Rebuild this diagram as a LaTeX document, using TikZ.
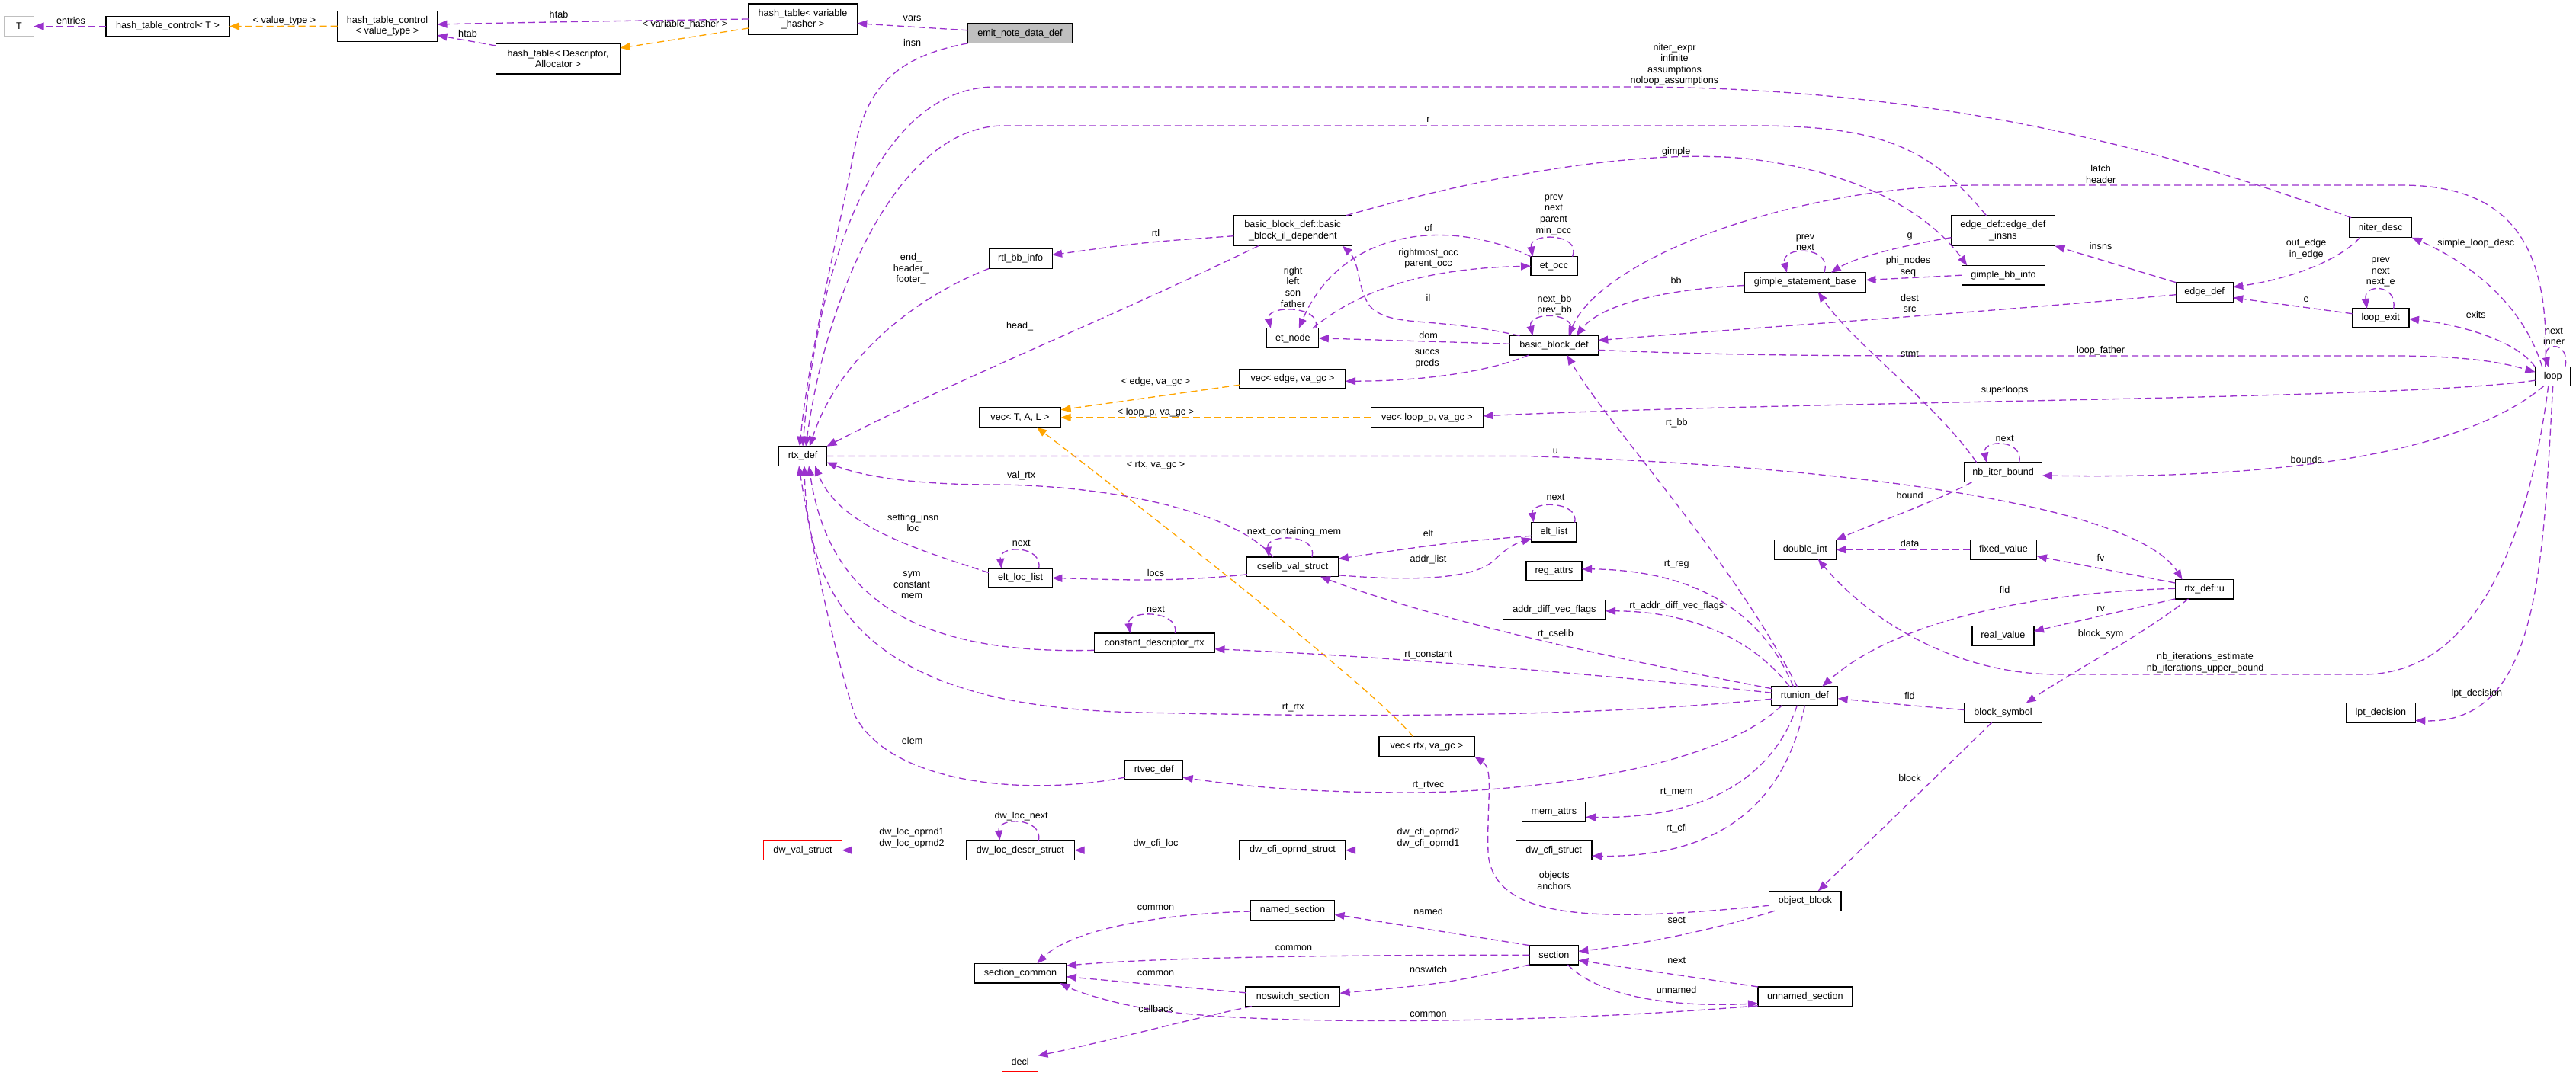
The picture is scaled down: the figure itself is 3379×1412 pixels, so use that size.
\documentclass[tikz,border=0pt]{standalone}
\usepackage{fontspec}
\setmainfont{Liberation Sans}
\usetikzlibrary{arrows.meta}
\definecolor{epurple}{RGB}{154,50,205}
\definecolor{eorange}{RGB}{255,165,0}
\definecolor{ggrey}{RGB}{191,191,191}
\newcommand\dgfont{\fontsize{12.6}{14.6}\selectfont}
\begin{document}
\begin{tikzpicture}[x=1pt,y=-1pt,
 box/.style={draw=black,line width=1.2pt,fill=white,inner sep=0pt,outer sep=0pt,align=center,font=\dgfont},
 lbl/.style={inner sep=0pt,align=center,font=\dgfont},
 edg/.style={draw=epurple,line width=1.3pt,dash pattern=on 9pt off 5pt,-{Triangle[length=13pt,width=10pt]}},
 orng/.style={edg,draw=eorange}]
\fill[white] (0,0) rectangle (3379,1412);
\useasboundingbox (0,0) rectangle (3379,1412);
% nodes
\node[box,draw=ggrey,minimum width=39pt,minimum height=26pt] (T) at (25,34.5) {T};
\node[box,minimum width=162pt,minimum height=26pt] (htcT) at (220,34.5) {hash\_table\_control< T >};
\node[box,minimum width=131pt,minimum height=40pt] (htcV) at (508,34.3) {hash\_table\_control\\< value\_type >};
\node[box,minimum width=163pt,minimum height=40pt] (htD) at (732,77) {hash\_table< Descriptor,\\ Allocator >};
\node[box,minimum width=142.5pt,minimum height=40pt] (htV) at (1053,25) {hash\_table< variable\\\_hasher >};
\node[box,fill=ggrey,minimum width=136.6pt,minimum height=26pt] (emit) at (1338,43.8) {emit\_note\_data\_def};
\node[box,minimum width=83pt,minimum height=26pt] (rtlbb) at (1338.6,339.5) {rtl\_bb\_info};
\node[box,minimum width=155pt,minimum height=40pt] (ild) at (1695.8,302.7) {basic\_block\_def::basic\\\_block\_il\_dependent};
\node[box,minimum width=61pt,minimum height=25pt] (etocc) at (2038.5,349.2) {et\_occ};
\node[box,minimum width=68pt,minimum height=26pt] (etnode) at (1695.8,443.8) {et\_node};
\node[box,minimum width=115.5pt,minimum height=25.3pt] (bbd) at (2038.5,453.3) {basic\_block\_def};
\node[box,minimum width=159.4pt,minimum height=25.6pt] (gsb) at (2367.8,370.5) {gimple\_statement\_base};
\node[box,minimum width=136pt,minimum height=40pt] (edi) at (2627.4,302.7) {edge\_def::edge\_def\\\_insns};
\node[box,minimum width=109.5pt,minimum height=25.7pt] (gbi) at (2628,361.2) {gimple\_bb\_info};
\node[box,minimum width=75pt,minimum height=26pt] (edge) at (2891.7,383.7) {edge\_def};
\node[box,minimum width=82.7pt,minimum height=26pt] (niter) at (3122.5,298.7) {niter\_desc};
\node[box,minimum width=74.5pt,minimum height=25pt] (lexit) at (3122.7,417.5) {loop\_exit};
\node[box,minimum width=46.5pt,minimum height=25pt] (loop) at (3348.7,494.2) {loop};
\node[box,minimum width=102.5pt,minimum height=26pt] (nbib) at (2627.6,619.7) {nb\_iter\_bound};
\node[box,minimum width=87.7pt,minimum height=25.3pt] (fixed) at (2628,721.3) {fixed\_value};
\node[box,minimum width=76.7pt,minimum height=25.3pt] (rtxu) at (2891.5,773.3) {rtx\_def::u};
\node[box,minimum width=81pt,minimum height=25.6pt] (real) at (2627.4,834.5) {real\_value};
\node[box,minimum width=102.5pt,minimum height=25.6pt] (bsym) at (2627.6,935.5) {block\_symbol};
\node[box,minimum width=91pt,minimum height=25.6pt] (lpt) at (3122.8,935.5) {lpt\_decision};
\node[box,minimum width=139pt,minimum height=25.7pt] (vedge) at (1695.5,497.2) {vec< edge, va\_gc >};
\node[box,minimum width=107.3pt,minimum height=25.7pt] (vtal) at (1338,547.8) {vec< T, A, L >};
\node[box,minimum width=62.9pt,minimum height=25.6pt] (rtx) at (1053,598.5) {rtx\_def};
\node[box,minimum width=120pt,minimum height=25.7pt] (cselib) at (1695.8,743.8) {cselib\_val\_struct};
\node[box,minimum width=83.5pt,minimum height=25pt] (eloc) at (1338.6,758.5) {elt\_loc\_list};
\node[box,minimum width=158.3pt,minimum height=25.7pt] (cdr) at (1514.3,843.8) {constant\_descriptor\_rtx};
\node[box,minimum width=147.4pt,minimum height=25.7pt] (vlp) at (1871.9,547.8) {vec< loop\_p, va\_gc >};
\node[box,minimum width=59pt,minimum height=25.3pt] (eltl) at (2038.5,698.3) {elt\_list};
\node[box,minimum width=73pt,minimum height=25.3pt] (rega) at (2038.5,749.3) {reg\_attrs};
\node[box,minimum width=81.3pt,minimum height=25.3pt] (dint) at (2367.8,721.3) {double\_int};
\node[box,minimum width=134.4pt,minimum height=25pt] (adv) at (2038.8,799.8) {addr\_diff\_vec\_flags};
\node[box,minimum width=86.7pt,minimum height=25pt] (rtun) at (2367.3,913.2) {rtunion\_def};
\node[box,minimum width=75.9pt,minimum height=25.3pt] (rtvec) at (1513.7,1010.3) {rtvec\_def};
\node[box,draw=red,minimum width=103pt,minimum height=26pt] (dwval) at (1053,1115.7) {dw\_val\_struct};
\node[box,minimum width=142.5pt,minimum height=26pt] (dwloc) at (1338.4,1115.7) {dw\_loc\_descr\_struct};
\node[box,minimum width=139pt,minimum height=26pt] (dwcfio) at (1695.5,1115.7) {dw\_cfi\_oprnd\_struct};
\node[box,minimum width=110pt,minimum height=25.6pt] (named) at (1695.5,1194.5) {named\_section};
\node[box,minimum width=120.9pt,minimum height=25.7pt] (scommon) at (1338.4,1277.2) {section\_common};
\node[box,minimum width=123.5pt,minimum height=25.7pt] (noswitch) at (1695.8,1307.8) {noswitch\_section};
\node[box,draw=red,minimum width=46.6pt,minimum height=25.3pt] (decl) at (1338.1,1393.3) {decl};
\node[box,minimum width=125.2pt,minimum height=26pt] (vrtx) at (1871.6,979.7) {vec< rtx, va\_gc >};
\node[box,minimum width=83.5pt,minimum height=25.3pt] (mema) at (2038.3,1065.3) {mem\_attrs};
\node[box,minimum width=99.7pt,minimum height=26pt] (dwcfi) at (2038.2,1115.7) {dw\_cfi\_struct};
\node[box,minimum width=94.3pt,minimum height=26pt] (oblock) at (2367.8,1182.3) {object\_block};
\node[box,minimum width=64pt,minimum height=25.3pt] (section) at (2038.3,1253.3) {section};
\node[box,minimum width=123.6pt,minimum height=25.7pt] (unnamed) at (2367.8,1307.8) {unnamed\_section};
% edges
\draw[edg] (htcT.west) -- (T.east);
\draw[orng] (htcV.west) -- (htcT.east);
\draw[edg] (htV.west) .. controls (850,27) and (700,29) .. ([yshift=2.3pt]htcV.east);
\draw[edg] ([yshift=-3pt]htD.north west) -- ([yshift=-12pt]htcV.east);
\draw[orng] ([yshift=-12pt]htV.west) -- ([yshift=14pt]htD.east);
\draw[edg] ([yshift=4pt]emit.west) -- ([yshift=-5.7pt]htV.east);
\draw[edg] (emit.south west) .. controls (1170,75) and (1135,120) .. (1120,200) .. controls (1095,330) and (1060,470) .. ([xshift=-4pt]rtx.north);
\draw[edg] ([xshift=3pt]niter.north west) .. controls (2800,180) and (2500,114) .. (2135,114) -- (1306,114) .. controls (1150,114) and (1072,350) .. ([xshift=0pt]rtx.north);
\draw[edg] ([xshift=-22pt]edi.north) .. controls (2530,190) and (2460,165) .. (2300,165) -- (1317,165) .. controls (1180,165) and (1085,380) .. ([xshift=4pt]rtx.north);
\draw[edg] (rtlbb.south west) .. controls (1200,390) and (1100,470) .. ([xshift=9pt]rtx.north);
\draw[edg] ([xshift=-45pt]ild.south) .. controls (1450,420) and (1250,500) .. (rtx.north east);
\draw[edg] ([yshift=-7pt]ild.west) .. controls (1500,318) .. ([yshift=5pt]rtlbb.east);
\draw[edg] ([xshift=-45pt]bbd.north) .. controls (1880,415) and (1830,430) .. (1800,405) .. controls (1780,385) and (1785,345) .. ([xshift=65pt]ild.south);
\draw[edg] ([yshift=2pt]bbd.west) -- (etnode.east);
\draw[edg] ([xshift=-33pt]bbd.south) .. controls (1960,485) and (1880,500) .. ([yshift=-3pt]vedge.east);
\draw[edg] ([xshift=21pt]bbd.north) .. controls (2075,408) and (2003,408) .. ([xshift=-28pt]bbd.north);
\draw[edg] ([xshift=26pt]etnode.north) .. controls (1790,375) and (1880,352) .. (etocc.west);
\draw[edg] (etocc.north west) .. controls (1900,285) and (1760,300) .. ([xshift=8pt]etnode.north);
\draw[edg] ([xshift=30pt]etnode.north) .. controls (1735,400) and (1660,400) .. ([xshift=-29pt]etnode.north);
\draw[edg] ([xshift=24pt]etocc.north) .. controls (2075,305) and (2005,305) .. ([xshift=-28pt]etocc.north);
\draw[edg] ([yshift=-4pt]gsb.west) .. controls (2180,380) and (2100,400) .. ([xshift=29pt]bbd.north);
\draw[edg] ([xshift=-10pt]loop.north) .. controls (3345,330) and (3300,243) .. (3150,243) -- (2600,243) .. controls (2350,243) and (2100,340) .. ([xshift=19pt]bbd.north);
\draw[edg] ([xshift=25pt]gsb.north) .. controls (2405,322) and (2335,322) .. ([xshift=-24pt]gsb.north);
\draw[edg] ([yshift=-9pt]edi.west) .. controls (2480,325) and (2430,340) .. ([xshift=34pt]gsb.north);
\draw[edg] (gbi.west) -- ([yshift=3pt]gsb.east);
\draw[edg] ([xshift=70pt]ild.north) .. controls (1950,230) and (2150,195) .. (2290,208) .. controls (2440,225) and (2530,280) .. ([xshift=7pt]gbi.north west);
\draw[edg] (edge.north west) -- (edi.south east);
\draw[edg] ([yshift=-3pt]edge.west) .. controls (2600,410) and (2300,430) .. ([yshift=6.6pt]bbd.east);
\draw[edg] ([xshift=-27pt]niter.south) .. controls (3070,340) and (3010,365) .. ([yshift=7pt]edge.east);
\draw[edg] ([yshift=5.8pt]lexit.west) -- ([yshift=-7pt]edge.east);
\draw[edg] ([xshift=17pt]lexit.north) .. controls (3145,372) and (3100,372) .. ([xshift=-18pt]lexit.north);
\draw[edg] ([xshift=-14pt]loop.north) .. controls (3310,400) and (3240,345) .. (niter.south east);
\draw[edg] (loop.north west) .. controls (3300,445) and (3220,425) .. ([yshift=-1pt]lexit.east);
\draw[edg] ([xshift=16pt]loop.north) .. controls (3372,448) and (3335,448) .. ([xshift=-6pt]loop.north);
\draw[edg] ([yshift=-6pt]bbd.east) .. controls (2250,466) and (2400,467) .. (2550,467) -- (3150,467) .. controls (3250,468) and (3290,478) .. ([yshift=6pt]loop.west);
\draw[edg] ([xshift=-35pt]nbib.north) .. controls (2540,530) and (2430,450) .. ([xshift=17pt]gsb.south);
\draw[edg] ([xshift=21pt]nbib.north) .. controls (2655,576) and (2600,576) .. ([xshift=-22pt]nbib.north);
\draw[edg] ([xshift=-12pt]loop.south) .. controls (3250,580) and (3050,630) .. ([yshift=-4.3pt]nbib.east);
\draw[edg] ([yshift=-5pt]loop.west) .. controls (3150,525) and (2400,525) .. ([yshift=2pt]vlp.east);
\draw[orng] (vlp.west) -- (vtal.east);
\draw[orng] ([yshift=-8pt]vedge.west) -- ([yshift=10pt]vtal.east);
\draw[orng] ([xshift=-18pt]vrtx.north) .. controls (1800,900) and (1450,630) .. ([xshift=22pt]vtal.south);
\draw[edg] ([xshift=-41pt]nbib.south) .. controls (2540,658) and (2450,690) .. (dint.north east);
\draw[edg] (fixed.west) -- (dint.east);
\draw[edg] (rtx.east) -- (2000,598.5) .. controls (2400,610) and (2800,660) .. ([xshift=-29pt]rtxu.north);
\draw[edg] ([yshift=8.3pt]rtxu.west) -- ([yshift=-8.7pt]fixed.east);
\draw[edg] (rtxu.south west) -- ([yshift=6.2pt]real.east);
\draw[edg] ([xshift=-21pt]rtxu.south) .. controls (2800,840) and (2720,880) .. ([xshift=30pt]bsym.north);
\draw[edg] ([yshift=1pt]rtxu.west) .. controls (2650,778) and (2480,820) .. ([xshift=23pt]rtun.north);
\draw[edg] ([xshift=-6pt]loop.south) .. controls (3320,680) and (3260,885) .. (3100,885) -- (2700,885) .. controls (2550,885) and (2440,800) .. ([xshift=17pt]dint.south);
\draw[edg] (loop.south) .. controls (3335,750) and (3330,950) .. ([yshift=-10pt]lpt.east);
\draw[edg] ([xshift=-15pt]bsym.south) -- ([xshift=17pt]oblock.north);
\draw[edg] ([yshift=4pt]bsym.west) .. controls (2520,927) .. ([yshift=-3.5pt]rtun.east);
\draw[edg] ([xshift=-10pt]rtun.north) .. controls (2270,730) and (2110,560) .. ([xshift=17pt]bbd.south);
\draw[edg] ([xshift=-15pt]rtun.north) .. controls (2310,800) and (2220,748) .. ([yshift=2.6pt]rega.east);
\draw[edg] ([xshift=-20pt]rtun.north) .. controls (2300,840) and (2220,802) .. ([yshift=-2pt]adv.east);
\draw[edg] ([yshift=-3pt]rtun.north west) .. controls (2150,870) and (1900,820) .. ([xshift=36pt]cselib.south);
\draw[edg] ([yshift=4pt]rtun.west) .. controls (2100,885) and (1800,860) .. ([yshift=-8pt]cdr.east);
\draw[edg] ([yshift=-4pt]rtun.west) .. controls (2100,940) and (1800,942) .. (1500,935) .. controls (1150,930) and (1060,800) .. ([xshift=2pt]rtx.south);
\draw[edg] ([yshift=7pt]eloc.west) .. controls (1200,720) and (1100,690) .. ([xshift=16pt]rtx.south);
\draw[edg] ([yshift=-9.5pt]cdr.west) .. controls (1180,860) and (1085,770) .. ([xshift=8pt]rtx.south);
\draw[edg] ([yshift=-9.7pt]rtvec.west) .. controls (1350,1045) and (1170,1030) .. (1122,940) .. controls (1095,860) and (1065,720) .. ([xshift=-5pt]rtx.south);
\draw[edg] ([xshift=-26pt]cselib.north) .. controls (1620,670) and (1450,636) .. (1300,636) .. controls (1200,636) and (1130,625) .. ([yshift=-8pt]rtx.east);
\draw[edg] ([xshift=25pt]cselib.north) .. controls (1730,700) and (1660,700) .. ([xshift=-31pt]cselib.north);
\draw[edg] ([yshift=-10pt]cselib.west) .. controls (1530,765) and (1450,760) .. (eloc.east);
\draw[edg] ([xshift=24pt]eloc.north) .. controls (1368,715) and (1310,715) .. ([xshift=-25pt]eloc.north);
\draw[edg] ([xshift=27pt]cdr.north) .. controls (1548,800) and (1478,800) .. ([xshift=-32pt]cdr.north);
\draw[edg] ([yshift=-5pt]eltl.west) .. controls (1900,712) .. ([yshift=10.5pt]cselib.east);
\draw[edg] ([yshift=-11pt]cselib.east) .. controls (1880,765) and (1940,755) .. (1960,735) .. controls (1975,720) and (1990,712) .. ([yshift=-8.4pt]eltl.west);
\draw[edg] ([xshift=27pt]eltl.north) .. controls (2072,657) and (2008,657) .. ([xshift=-27pt]eltl.north);
\draw[edg] ([xshift=-30pt]rtun.south) .. controls (2250,1010) and (2000,1040) .. (1850,1040) .. controls (1700,1040) and (1620,1030) .. ([yshift=-10pt]rtvec.east);
\draw[edg] ([xshift=-10pt]rtun.south) .. controls (2330,1010) and (2250,1075) .. ([yshift=-7pt]mema.east);
\draw[edg] (rtun.south) .. controls (2340,1060) and (2250,1125) .. ([yshift=-7.6pt]dwcfi.east);
\draw[edg] (dwcfi.west) -- (dwcfio.east);
\draw[edg] (dwcfio.west) -- (dwloc.east);
\draw[edg] (dwloc.west) -- (dwval.east);
\draw[edg] ([xshift=24pt]dwloc.north) .. controls (1368,1072) and (1308,1072) .. ([xshift=-27pt]dwloc.north);
\draw[edg] ([yshift=-6pt]oblock.west) .. controls (2100,1210) and (1960,1210) .. (1952,1120) .. controls (1950,1050) and (1960,1010) .. (vrtx.south east);
\draw[edg] ([xshift=-40pt]oblock.south) .. controls (2250,1220) and (2150,1240) .. ([yshift=5pt]section.east);
\draw[edg] (unnamed.north west) -- ([yshift=-7pt]section.east);
\draw[edg] ([xshift=18pt]section.south) .. controls (2100,1310) and (2200,1322) .. ([yshift=-9pt]unnamed.west);
\draw[edg] (section.north west) -- ([yshift=-5.5pt]named.east);
\draw[edg] (section.west) .. controls (1700,1253) and (1500,1258) .. ([yshift=10pt]scommon.east);
\draw[edg] (section.south west) .. controls (1900,1290) .. ([yshift=4.5pt]noswitch.east);
\draw[edg] ([yshift=-1.5pt]named.west) .. controls (1500,1200) and (1400,1225) .. ([xshift=22pt]scommon.north);
\draw[edg] ([yshift=5pt]noswitch.west) -- ([yshift=-4.5pt]scommon.east);
\draw[edg] ([xshift=-54pt]noswitch.south) .. controls (1540,1342) and (1460,1365) .. ([yshift=8pt]decl.east);
\draw[edg] ([yshift=-12pt]unnamed.west) .. controls (2000,1345) and (1650,1345) .. (1520,1326) .. controls (1460,1318) and (1410,1300) .. ([xshift=52pt]scommon.south);
% labels
\node[lbl] (l1) at (93,26.7) {entries};
\node[lbl] (l2) at (373,27.3) {< value\_type >};
\node[lbl] (l3) at (733,19.3) {htab};
\node[lbl] (l4) at (613.5,44.3) {htab};
\node[lbl] (l5) at (898.5,32.3) {< variable\_hasher >};
\node[lbl] (l6) at (1196.6,24) {vars};
\node[lbl] (l7) at (1196.6,55.7) {insn};
\node[lbl] (l8) at (2196.5,84.7) {niter\_expr\\infinite\\assumptions\\noloop\_assumptions};
\node[lbl] (l9) at (1873.5,156.7) {r};
\node[lbl] (l10) at (2198.7,199) {gimple};
\node[lbl] (l11) at (2755.6,228.2) {latch\\header};
\node[lbl] (l12) at (2038,282) {prev\\next\\parent\\min\_occ};
\node[lbl] (l13) at (1873.5,299.3) {of};
\node[lbl] (l14) at (1516,306) {rtl};
\node[lbl] (l15) at (2755.6,323.3) {insns};
\node[lbl] (l16) at (2505,310) {g};
\node[lbl] (l17) at (2368,318) {prev\\next};
\node[lbl] (l18) at (3025.2,326.8) {out\_edge\\in\_edge};
\node[lbl] (l19) at (3247.7,319.3) {simple\_loop\_desc};
\node[lbl] (l20) at (1873.5,339.2) {rightmost\_occ\\parent\_occ};
\node[lbl] (l21) at (1195,352.8) {end\_\\header\_\\footer\_};
\node[lbl] (l22) at (2503,349.7) {phi\_nodes\\seq};
\node[lbl] (l23) at (1696,376.7) {right\\left\\son\\father};
\node[lbl] (l24) at (3122.7,357) {prev\\next\\next\_e};
\node[lbl] (l25) at (2198.7,368.3) {bb};
\node[lbl] (l26) at (1873.5,390.7) {il};
\node[lbl] (l27) at (2039,400.3) {next\_bb\\prev\_bb};
\node[lbl] (l28) at (2505,397.9) {dest\\src};
\node[lbl] (l29) at (3025.2,392.7) {e};
\node[lbl] (l30) at (3247.7,412.7) {exits};
\node[lbl] (l31) at (1337.6,427.7) {head\_};
\node[lbl] (l32) at (1873.5,440) {dom};
\node[lbl] (l33) at (3350,441.3) {next\\inner};
\node[lbl] (l34) at (2755.6,460) {loop\_father};
\node[lbl] (l35) at (2505,464.3) {stmt};
\node[lbl] (l36) at (1872,471) {succs\\preds};
\node[lbl] (l37) at (1516,501) {< edge, va\_gc >};
\node[lbl] (l38) at (2629.6,512.7) {superloops};
\node[lbl] (l39) at (1516,541) {< loop\_p, va\_gc >};
\node[lbl] (l40) at (2199.2,555) {rt\_bb};
\node[lbl] (l41) at (2629.6,575) {next};
\node[lbl] (l42) at (2040.4,592.3) {u};
\node[lbl] (l43) at (3025.2,602.7) {bounds};
\node[lbl] (l44) at (1516,611) {< rtx, va\_gc >};
\node[lbl] (l45) at (1339.7,624) {val\_rtx};
\node[lbl] (l46) at (2505,650.3) {bound};
\node[lbl] (l47) at (2040.4,652.7) {next};
\node[lbl] (l48) at (1197.7,685.9) {setting\_insn\\loc};
\node[lbl] (l49) at (1697.5,698.7) {next\_containing\_mem};
\node[lbl] (l50) at (1873.5,700) {elt};
\node[lbl] (l51) at (2505,712.7) {data};
\node[lbl] (l52) at (1339.7,712.7) {next};
\node[lbl] (l53) at (2755.6,731.7) {fv};
\node[lbl] (l54) at (1873.5,734.3) {addr\_list};
\node[lbl] (l55) at (2199.2,740.7) {rt\_reg};
\node[lbl] (l56) at (1516,751.7) {locs};
\node[lbl] (l57) at (1196,768) {sym\\constant\\mem};
\node[lbl] (l58) at (2629.6,774.3) {fld};
\node[lbl] (l59) at (2199.2,795.7) {rt\_addr\_diff\_vec\_flags};
\node[lbl] (l60) at (1516,799) {next};
\node[lbl] (l61) at (2755.6,799.3) {rv};
\node[lbl] (l62) at (2040.4,831.7) {rt\_cselib};
\node[lbl] (l63) at (2755.6,832.7) {block\_sym};
\node[lbl] (l64) at (1873.5,859.3) {rt\_constant};
\node[lbl] (l65) at (2892.6,869.7) {nb\_iterations\_estimate\\nb\_iterations\_upper\_bound};
\node[lbl] (l66) at (3248.8,910.7) {lpt\_decision};
\node[lbl] (l67) at (2505,912.7) {fld};
\node[lbl] (l68) at (1696.3,929) {rt\_rtx};
\node[lbl] (l69) at (1196.6,972) {elem};
\node[lbl] (l70) at (2505,1020.7) {block};
\node[lbl] (l71) at (1873.5,1030.7) {rt\_rtvec};
\node[lbl] (l72) at (2199.2,1040) {rt\_mem};
\node[lbl] (l73) at (1339.7,1070.7) {dw\_loc\_next};
\node[lbl] (l74) at (2199.2,1086.7) {rt\_cfi};
\node[lbl] (l75) at (1196,1100) {dw\_loc\_oprnd1\\dw\_loc\_oprnd2};
\node[lbl] (l76) at (1516,1107.3) {dw\_cfi\_loc};
\node[lbl] (l77) at (1873.5,1100) {dw\_cfi\_oprnd2\\dw\_cfi\_oprnd1};
\node[lbl] (l78) at (2038.8,1155.2) {objects\\anchors};
\node[lbl] (l79) at (1516,1191) {common};
\node[lbl] (l80) at (1873.5,1195.7) {named};
\node[lbl] (l81) at (2199.2,1207.7) {sect};
\node[lbl] (l82) at (1697,1244) {common};
\node[lbl] (l83) at (2199.2,1260.7) {next};
\node[lbl] (l84) at (1873.5,1271.7) {noswitch};
\node[lbl] (l85) at (1516,1277.3) {common};
\node[lbl] (l86) at (2199.2,1299) {unnamed};
\node[lbl] (l87) at (1516,1324) {callback};
\node[lbl] (l88) at (1873.5,1331) {common};
\end{tikzpicture}
\end{document}
